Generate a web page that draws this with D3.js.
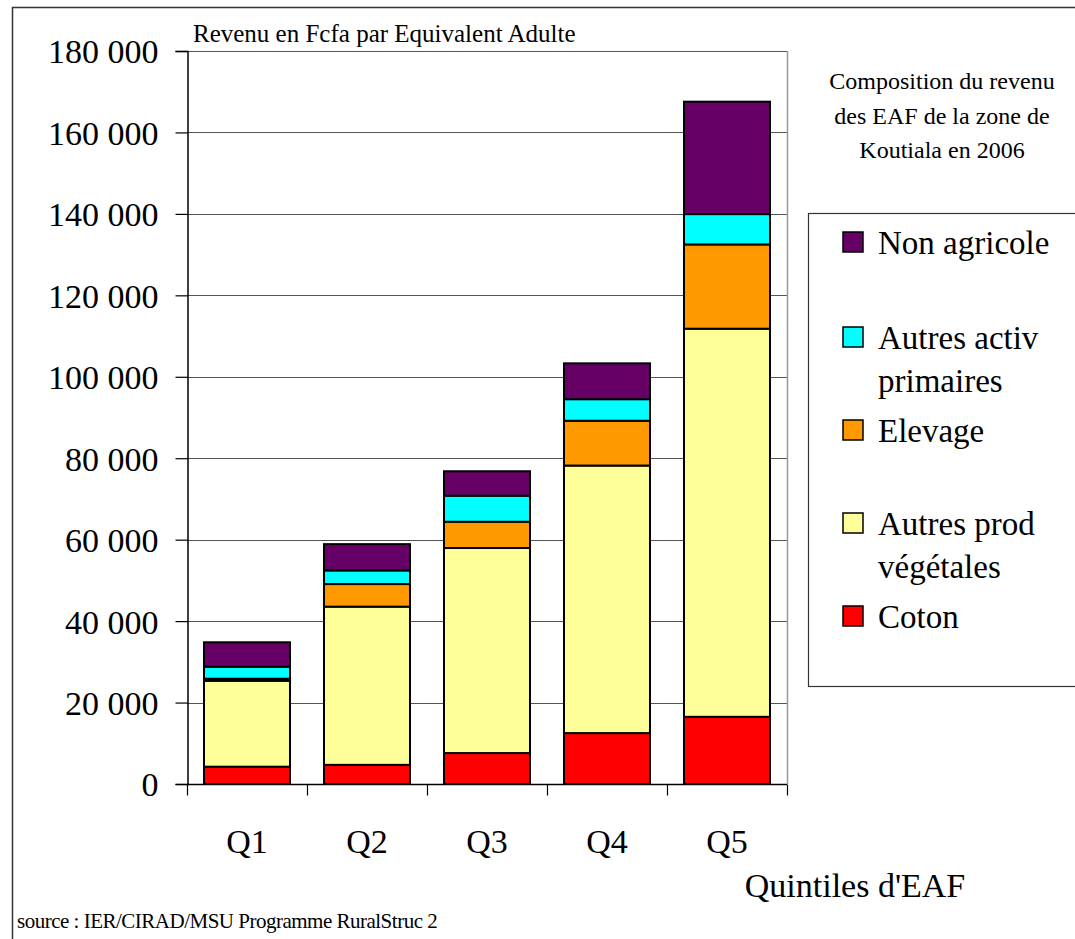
<!DOCTYPE html>
<html>
<head>
<meta charset="utf-8">
<script src="https://cdn.jsdelivr.net/npm/d3@7"></script>
<style>
  body { margin: 0; background: #fff; }
  svg text { fill: #000; }
</style>
</head>
<body>
<div id="chart"></div>
<script>
// categories and series (Fcfa per adult equivalent)
var quintiles = ["Q1", "Q2", "Q3", "Q4", "Q5"];
var coton = [4250, 4700, 7600, 12500, 16500];
var autresProd = [21100, 38850, 50350, 65700, 95300];
var elevage = [500, 5550, 6450, 11000, 20700];
var autresActiv = [2950, 3350, 6400, 5300, 7450];
var nonAgricole = [6000, 6450, 6000, 8800, 27600];
var yTicks = [0, 20000, 40000, 60000, 80000, 100000, 120000, 140000, 160000, 180000];

var seriesNames = ["Coton", "Autres prod végétales", "Elevage", "Autres activ primaires", "Non agricole"];
var seriesColors = ["#ff0000", "#ffff99", "#ff9900", "#00ffff", "#660066"];

var W = 1075, H = 939;
var serif = "'Liberation Serif', 'Times New Roman', Times, 'DejaVu Serif', serif";
var svg = d3.select("#chart").append("svg")
    .attr("width", W)
    .attr("height", H)
    .attr("font-family", serif);

// outer frame
svg.append("rect")
    .attr("x", 12.5).attr("y", 7.5)
    .attr("width", 1080).attr("height", 950)
    .style("fill", "#fff")
    .style("stroke", "#333")
    .style("stroke-width", 1.5);

var rows = quintiles.map(function (q, i) {
    return { q: q, s0: coton[i], s1: autresProd[i], s2: elevage[i], s3: autresActiv[i], s4: nonAgricole[i] };
});
var keys = ["s0", "s1", "s2", "s3", "s4"];
var stacked = d3.stack().keys(keys)(rows);

var x = d3.scaleBand()
    .domain(quintiles)
    .range([187, 787])
    .paddingInner(0.2833)
    .paddingOuter(0.1417);

var y = d3.scaleLinear()
    .domain([0, 180000])
    .range([784, 51]);

var fmt = d3.formatLocale({ decimal: ",", thousands: " ", grouping: [3], currency: ["", ""] }).format(",d");

// gridlines
svg.append("g")
    .selectAll("line")
    .data(yTicks.filter(function (d) { return d > 0; }))
    .join("line")
    .attr("x1", 187).attr("x2", 787)
    .attr("y1", function (d) { return Math.round(y(d)) + 0.5; })
    .attr("y2", function (d) { return Math.round(y(d)) + 0.5; })
    .style("stroke", "#555")
    .style("stroke-width", 1.2);

// right border of plot area
svg.append("line")
    .attr("x1", 787.5).attr("x2", 787.5)
    .attr("y1", y(180000)).attr("y2", y(0))
    .style("stroke", "#999")
    .style("stroke-width", 1.5);

// bars
svg.append("g")
    .selectAll("g")
    .data(stacked)
    .join("g")
    .style("fill", function (d, i) { return seriesColors[i]; })
    .selectAll("rect")
    .data(function (d) { return d; })
    .join("rect")
    .attr("x", function (d) { return x(d.data.q); })
    .attr("y", function (d) { return y(d[1]); })
    .attr("width", x.bandwidth())
    .attr("height", function (d) { return y(d[0]) - y(d[1]); })
    .style("stroke", "#000")
    .style("stroke-width", 2);

// y axis
var yAxis = svg.append("g")
    .attr("transform", "translate(187.5,0)")
    .call(d3.axisLeft(y).tickValues(yTicks).tickFormat(fmt).tickSize(12).tickPadding(17));
yAxis.attr("font-family", serif).attr("font-size", 34);
yAxis.select(".domain").style("stroke", "#000").style("stroke-width", 1.5);
yAxis.selectAll(".tick line").style("stroke", "#000").style("stroke-width", 1.2);
yAxis.selectAll(".tick text").attr("dy", "0.35em");

// x axis
var xAxis = svg.append("g")
    .attr("transform", "translate(0,784.5)")
    .call(d3.axisBottom(x).tickSize(0).tickPadding(44));
xAxis.attr("font-family", serif).attr("font-size", 34);
xAxis.select(".domain").remove();
xAxis.append("line")
    .attr("x1", 187).attr("x2", 787)
    .style("stroke", "#000").style("stroke-width", 1.5);
xAxis.selectAll(".bound")
    .data(d3.range(quintiles.length + 1))
    .join("line")
    .attr("class", "bound")
    .attr("x1", function (i) { return 187.5 + i * x.step(); })
    .attr("x2", function (i) { return 187.5 + i * x.step(); })
    .attr("y1", 0).attr("y2", 11)
    .style("stroke", "#000").style("stroke-width", 1.2);

// titles
svg.append("text")
    .attr("x", 193).attr("y", 42)
    .style("font-size", "25px")
    .text("Revenu en Fcfa par Equivalent Adulte");

svg.append("text")
    .attr("x", 855).attr("y", 897)
    .attr("text-anchor", "middle")
    .style("font-size", "34px")
    .text("Quintiles d'EAF");

svg.append("text")
    .attr("x", 17).attr("y", 928)
    .style("font-size", "21px")
    .style("letter-spacing", "-0.5px")
    .text("source : IER/CIRAD/MSU Programme RuralStruc 2");

var subtitle = ["Composition du revenu", "des EAF de la zone de", "Koutiala en 2006"];
svg.append("text")
    .attr("text-anchor", "middle")
    .style("font-size", "24px")
    .selectAll("tspan")
    .data(subtitle)
    .join("tspan")
    .attr("x", 942)
    .attr("y", function (d, i) { return 89 + i * 34.5; })
    .text(function (d) { return d; });

// legend
svg.append("rect")
    .attr("x", 808.5).attr("y", 213.5)
    .attr("width", 300).attr("height", 473)
    .style("fill", "#fff")
    .style("stroke", "#333")
    .style("stroke-width", 1.2);

var legendItems = [
    { i: 4, lines: ["Non agricole"], cy: 242 },
    { i: 3, lines: ["Autres activ", "primaires"], cy: 337 },
    { i: 2, lines: ["Elevage"], cy: 430 },
    { i: 1, lines: ["Autres prod", "végétales"], cy: 523 },
    { i: 0, lines: ["Coton"], cy: 616 }
];
var lg = svg.append("g").selectAll("g")
    .data(legendItems)
    .join("g");
lg.append("rect")
    .attr("x", 843).attr("y", function (d) { return d.cy - 10; })
    .attr("width", 20).attr("height", 20)
    .style("fill", function (d) { return seriesColors[d.i]; })
    .style("stroke", "#000")
    .style("stroke-width", 1.5);
lg.append("text")
    .style("font-size", "33px")
    .selectAll("tspan")
    .data(function (d) { return d.lines.map(function (l, k) { return { t: l, y: d.cy + 12 + k * 43 }; }); })
    .join("tspan")
    .attr("x", 878)
    .attr("y", function (d) { return d.y; })
    .text(function (d) { return d.t; });
</script>
</body>
</html>
